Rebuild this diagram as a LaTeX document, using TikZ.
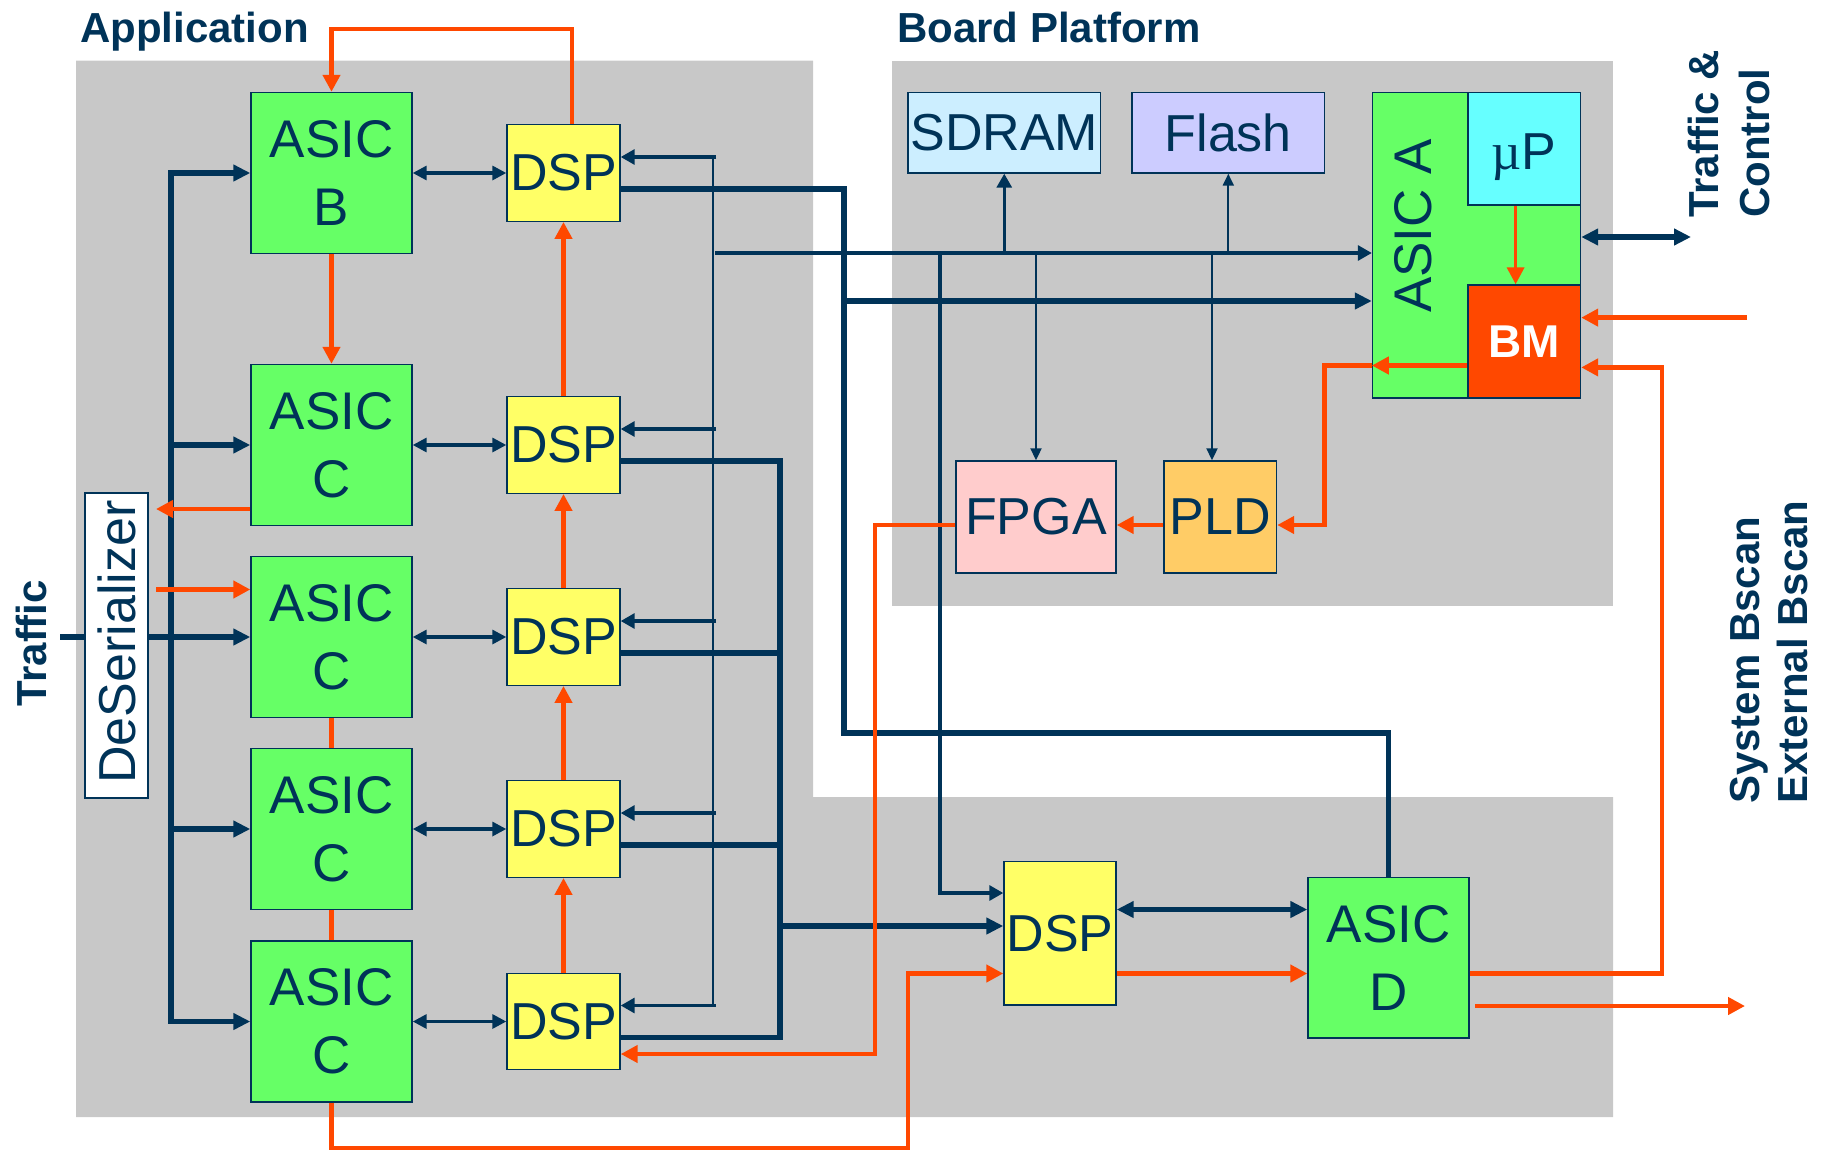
\documentclass[tikz,border=0pt]{standalone}
\usepackage{fontspec}
\setmainfont{Liberation Sans}
\newfontfamily\serifmu{Liberation Serif}
\usetikzlibrary{arrows.meta,calc}
\definecolor{navy}{RGB}{0,51,88}
\definecolor{org}{RGB}{255,72,0}
\definecolor{grn}{RGB}{102,255,102}
\definecolor{ylw}{RGB}{255,255,102}
\definecolor{pnl}{RGB}{200,200,200}
\definecolor{sdr}{RGB}{204,238,255}
\definecolor{fls}{RGB}{204,204,255}
\definecolor{mup}{RGB}{102,255,255}
\definecolor{fpg}{RGB}{255,204,204}
\definecolor{pldc}{RGB}{255,204,102}
\newcommand\myBig{\fontsize{53}{68}\selectfont}
\newcommand\myDsp{\fontsize{52}{60}\selectfont}
\newcommand\myTitle{\fontsize{42}{50}\selectfont\bfseries}
\tikzset{
  blk/.style={draw=navy, line width=1.4pt, inner sep=0pt, text=navy, align=center, font=\myBig},
  dspbox/.style={blk, fill=ylw, font=\myDsp, minimum width=113, minimum height=96.5},
  asicbox/.style={blk, fill=grn, minimum width=161, minimum height=161},
  thk/.style={draw=navy, line width=5.2pt},
  med/.style={draw=navy, line width=3.2pt},
  thn/.style={draw=navy, line width=2pt},
  oln/.style={draw=org, line width=4.8pt},
  aT/.style={-{Triangle[length=17pt,width=16pt]}},
  aTT/.style={{Triangle[length=17pt,width=16pt]}-{Triangle[length=17pt,width=16pt]}},
  aM/.style={-{Triangle[length=14pt,width=15pt]}},
  aMM/.style={{Triangle[length=14pt,width=14pt]}-{Triangle[length=14pt,width=14pt]}},
  aS/.style={-{Triangle[length=12pt,width=11pt]}},
  aO/.style={-{Triangle[length=17pt,width=17pt]}},
  ttl/.style={font=\myTitle, text=navy, inner sep=0pt},
}
\begin{document}
\begin{tikzpicture}[x=1pt,y=-1pt]
\useasboundingbox (0,0) rectangle (1822,1151);
% panels
\fill[pnl] (76,60.5) -- (813,60.5) -- (813,797) -- (1613,797) -- (1613,1117) -- (76,1117) -- cycle;
\fill[pnl] (892,60.5) rectangle (1613,605.6);
% titles
\node[ttl, anchor=base west] (tApp) at (80,42) {Application};
\node[ttl, anchor=base west] (tBoard) at (897,42) {Board Platform};
\node[ttl, rotate=90] (tTraffic) at (31,643) {Traffic};
\node[ttl, rotate=90, anchor=west, align=left, font=\fontsize{42}{51}\selectfont\bfseries] (tTC) at (1728.5,218) {Traffic \&\\Control};
\node[ttl, rotate=90, anchor=west, align=left, font=\fontsize{42}{48}\selectfont\bfseries] (tBS) at (1769,804) {System Bscan\\External Bscan};
% application blocks
\node[asicbox] (asicB) at (331.5,173) {ASIC\\B};
\node[asicbox] (asicC1) at (331.5,445) {ASIC\\C};
\node[asicbox] (asicC2) at (331.5,637) {ASIC\\C};
\node[asicbox] (asicC3) at (331.5,829) {ASIC\\C};
\node[asicbox] (asicC4) at (331.5,1021.5) {ASIC\\C};
\node[dspbox] (dsp1) at (563.5,173) {DSP};
\node[dspbox] (dsp2) at (563.5,445) {DSP};
\node[dspbox] (dsp3) at (563.5,637) {DSP};
\node[dspbox] (dsp4) at (563.5,829) {DSP};
\node[dspbox] (dsp5) at (563.5,1021.5) {DSP};
\node[blk, fill=white, font=\myDsp, minimum width=63, minimum height=305] (deser) at (116.5,645.5) {};
\node[text=navy, font=\myDsp, rotate=90, inner sep=0pt] (deserT) at (116.5,642) {DeSerializer};
% bottom blocks
\node[dspbox, minimum width=112, minimum height=143.4] (dsp6) at (1060,933.3) {DSP};
\node[asicbox, minimum height=160.3] (asicD) at (1388.5,957.8) {ASIC\\D};
% board blocks
\node[blk, fill=sdr, font=\myDsp, minimum width=192.5, minimum height=80.4] (sdram) at (1004.25,132.8) {SDRAM};
\node[blk, fill=fls, font=\myDsp, minimum width=192.5, minimum height=80.4] (flash) at (1228.3,132.8) {Flash};
\node[blk, fill=grn, minimum width=208, minimum height=305.4] (asicA) at (1476.5,245.3) {};
\node[text=navy, font=\myBig, rotate=90, inner sep=0pt] (asicAT) at (1413,226) {ASIC A};
\node[blk, fill=mup, font=\myDsp, text height=42pt, text depth=0pt, minimum width=112.5, minimum height=112.4] (mup) at (1524.25,148.8) {{\serifmu µ}P};
\node[blk, fill=org, text=white, font=\fontsize{46}{50}\selectfont\bfseries, minimum width=112.5, minimum height=113] (bm) at (1524.25,341.5) {BM};
\node[blk, fill=fpg, font=\myDsp, minimum width=160, minimum height=112] (fpga) at (1036,517) {FPGA};
\node[blk, fill=pldc, font=\myDsp, minimum width=112.5, minimum height=112] (pld) at (1220.25,517) {PLD};
% helper coordinates
\coordinate (busX) at (171,0);
\coordinate (trafIn) at (60,637);
\coordinate (ctlX) at (713,0);
\coordinate (cbus) at (715,253);
\coordinate (pldX) at (1212,0);
\coordinate (d6a) at (940,893);
\coordinate (outX) at (780,0);
\coordinate (jct) at (844,733);
\coordinate (tb) at (844,301);
\coordinate (d6b) at (780,926);
\coordinate (dd) at (0,909.5);
\coordinate (tcOut) at (1691,237);
\coordinate (oTop) at (572,29);
\coordinate (dsIn) at (156,509);
\coordinate (dsOut) at (156,589.5);
\coordinate (ob) at (908,1148);
\coordinate (o6) at (908,973.5);
\coordinate (bsc) at (1662,367.4);
\coordinate (eo) at (1475,1006);
\coordinate (extOut) at (1745,1006);
\coordinate (extIn) at (1747,317.6);
\coordinate (mx) at (1515.6,0);
\coordinate (bmo) at (0,365.5);
\coordinate (pl) at (1324.6,525);
\coordinate (y525) at (0,525);
\coordinate (ofx) at (875,1054);
\foreach \d in {dsp1,dsp2,dsp3,dsp4,dsp5}{
  \coordinate (\d-in) at ($(\d.east)+(0,-16)$);
  \coordinate (\d-out) at ($(\d.east)+(0,16)$);
}
% ---- navy connectors
\draw[thk, line cap=rect] (busX |- asicB.west) -- (busX |- asicC4.west);
\foreach \n in {asicB,asicC1,asicC2,asicC3,asicC4}
  \draw[thk,aT] (busX |- \n.west) -- (\n.west);
\draw[thk] (trafIn) -- (deser.west |- trafIn);
\draw[thk] (deser.east |- trafIn) -- (busX |- trafIn);
\draw[med,aMM] (asicB.east) -- (dsp1.west);
\draw[med,aMM] (asicC1.east) -- (dsp2.west);
\draw[med,aMM] (asicC2.east) -- (dsp3.west);
\draw[med,aMM] (asicC3.east) -- (dsp4.west);
\draw[med,aMM] (asicC4.east) -- (dsp5.west);
\draw[thn, line cap=rect] (ctlX |- dsp1-in) -- (ctlX |- dsp5-in);
\foreach \d in {dsp1,dsp2,dsp3,dsp4,dsp5}
  \draw[med,aM] ($(ctlX |- \d-in)+(3,0)$) -- (\d-in);
\draw[med,aM] (cbus) -- (cbus -| asicA.west);
\draw[med,aM] (cbus -| sdram.south) -- (sdram.south);
\draw[thn,aS] (cbus -| flash.south) -- (flash.south);
\draw[thn,aS] (cbus -| fpga.north) -- (fpga.north);
\draw[thn,aS] (cbus -| pldX) -- (pldX |- pld.north);
\draw[med,aM] (cbus -| d6a) -- (d6a) -- (d6a -| dsp6.west);
\draw[thk] (dsp1-out) -| (jct) -| (asicD.north);
\draw[thk,aT] (tb) -- (tb -| asicA.west);
\draw[thk] (dsp2-out) -| (outX |- dsp5-out) -- (dsp5-out);
\draw[thk] (dsp3-out) -- (outX |- dsp3-out);
\draw[thk] (dsp4-out) -- (outX |- dsp4-out);
\draw[thk,aT] (d6b) -- (d6b -| dsp6.west);
\draw[thk,aTT] (dsp6.east |- dd) -- (asicD.west |- dd);
\draw[thk,aTT] (asicA.east |- tcOut) -- (tcOut);
% ---- orange connectors
\draw[oln,aO] (oTop |- dsp1.north) -- (oTop) -| (asicB.north);
\draw[oln,aO] (asicB.south) -- (asicC1.north);
\draw[oln,aO] (asicC1.west |- dsIn) -- (dsIn);
\draw[oln,aO] (dsOut) -- (asicC2.west |- dsOut);
\draw[oln] (asicC2.south) -- (asicC3.north);
\draw[oln] (asicC3.south) -- (asicC4.north);
\draw[oln,aO] (dsp5.north) -- (dsp4.south);
\draw[oln,aO] (dsp4.north) -- (dsp3.south);
\draw[oln,aO] (dsp3.north) -- (dsp2.south);
\draw[oln,aO] (dsp2.north) -- (dsp1.south);
\draw[oln,aO] (asicC4.south) |- (ob) -- (o6) -- (o6 -| dsp6.west);
\draw[oln,aO] (dsp6.east |- o6) -- (asicD.west |- o6);
\draw[oln,aO] (asicD.east |- o6) -| (bsc) -- (bsc -| bm.east);
\draw[oln,aO] (eo) -- (extOut);
\draw[oln,aO] (extIn) -- (extIn -| bm.east);
\draw[oln,line width=3.6pt,aO] (mx |- mup.south) -- (mx |- bm.north);
\draw[oln,aO] (bm.west |- bmo) -- (asicA.west |- bmo);
\draw[oln,aO] (asicA.west |- bmo) -| (pl) -- (pl -| pld.east);
\draw[oln,aO] (y525 -| pld.west) -- (y525 -| fpga.east);
\draw[oln,aO] (y525 -| fpga.west) -| (ofx) -- (ofx -| dsp5.east);
\end{tikzpicture}
\end{document}
